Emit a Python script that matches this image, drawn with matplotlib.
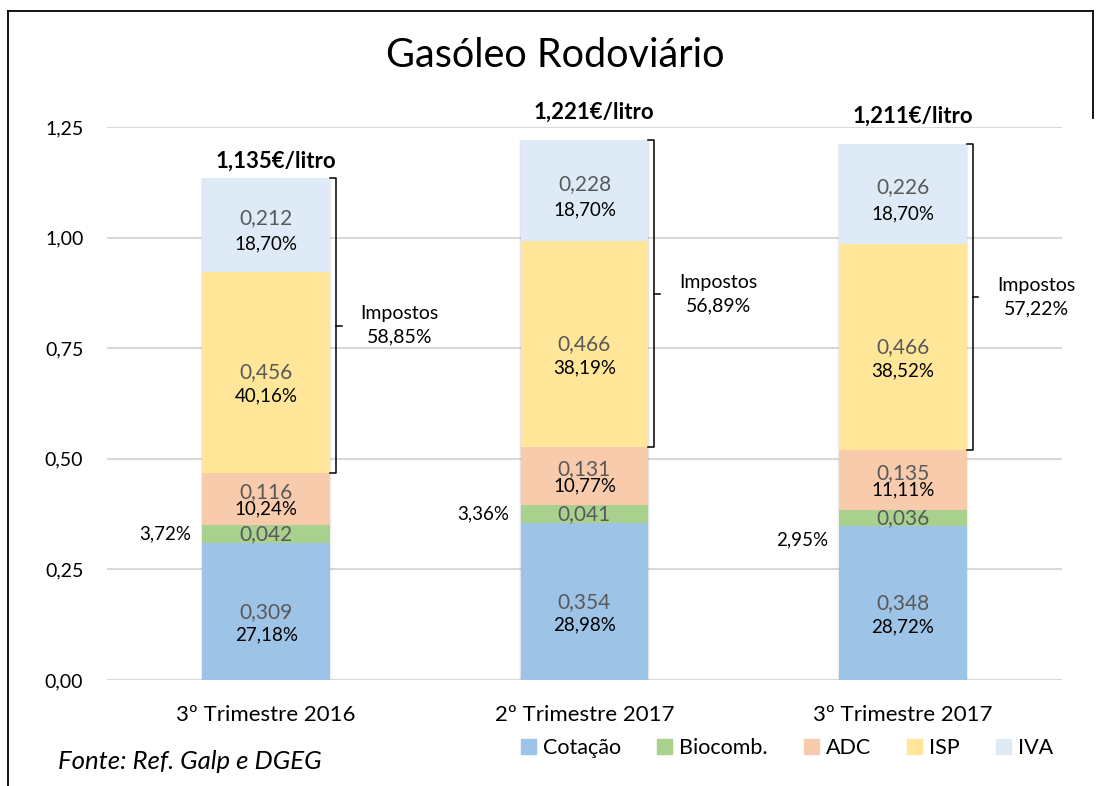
import matplotlib.pyplot as plt
from matplotlib.lines import Line2D
from matplotlib.patches import Patch
import numpy as np

plt.rcParams['font.family'] = ['Lato', 'DejaVu Sans']

# data
categories = ['3º Trimestre 2016', '2º Trimestre 2017', '3º Trimestre 2017']
cotacao = [0.309, 0.354, 0.348]
biocomb = [0.042, 0.041, 0.036]
adc = [0.116, 0.131, 0.135]
isp = [0.456, 0.466, 0.466]
iva = [0.212, 0.228, 0.226]
totals_txt = ['1,135€/litro', '1,221€/litro', '1,211€/litro']
cot_pct = ['27,18%', '28,98%', '28,72%']
bio_pct = ['3,72%', '3,36%', '2,95%']
adc_pct = ['10,24%', '10,77%', '11,11%']
isp_pct = ['40,16%', '38,19%', '38,52%']
iva_pct = ['18,70%', '18,70%', '18,70%']
impostos_pct = ['58,85%', '56,89%', '57,22%']

# name, values, colour, pct labels, value label dy (pt), pct label dy (pt)
series = [('Cotação', cotacao, '#9DC3E6', cot_pct, 0, -17),
          ('Biocomb.', biocomb, '#A9D18E', None, 0, 0),
          ('ADC', adc, '#F8CBAD', adc_pct, 5, -7),
          ('ISP', isp, '#FFE699', isp_pct, 0, -17),
          ('IVA', iva, '#DEEBF7', iva_pct, 5, -14)]

fig = plt.figure(figsize=(10.96, 7.86), dpi=100)
ax = fig.add_axes([0.0976, 0.1349, 0.8714, 0.7035])

x = np.arange(len(categories))
bw = 0.40
bottom = np.zeros(len(categories))
totals = np.sum([s[1] for s in series], axis=0)

# soft shadow behind bars
for k, a in enumerate([0.05, 0.07, 0.09]):
    grow = 0.012 - k * 0.004
    ax.bar(x, totals + grow * 0.5, bw + grow, bottom=-0.006,
           color='#7f7f7f', alpha=a, linewidth=0, zorder=1)

for name, vals, col, pct, vdy, pdy in series:
    vals = np.array(vals)
    ax.bar(x, vals, bw, bottom=bottom, color=col, label=name, zorder=2, linewidth=0)
    centers = bottom + vals / 2
    for i in range(len(x)):
        ax.annotate(f'{vals[i]:.3f}'.replace('.', ','), (x[i], centers[i]),
                    xytext=(0, vdy), textcoords='offset points',
                    ha='center', va='center', fontsize=15, color='#595959', zorder=3)
        if pct is not None:
            ax.annotate(pct[i], (x[i], centers[i]), xytext=(0, pdy),
                        textcoords='offset points', ha='center', va='center',
                        fontsize=13.5, color='black', zorder=3)
    bottom = bottom + vals

# Biocomb percentages left of the bar
bio_center = np.array(cotacao) + np.array(biocomb) / 2
bio_dy = [0, 0, -16]
for i in range(len(x)):
    ax.annotate(bio_pct[i], (x[i] - bw / 2, bio_center[i]), xytext=(-8, bio_dy[i]),
                textcoords='offset points', ha='right', va='center', fontsize=13.5)

# totals on top
tot_dy = [12, 20, 20]
for i in range(len(x)):
    ax.annotate(totals_txt[i], (x[i], totals[i]), xytext=(7, tot_dy[i]),
                textcoords='offset points', ha='center', va='center',
                fontsize=16, fontweight='bold', annotation_clip=False)

# tax brackets
tax_low = np.array(cotacao) + np.array(biocomb) + np.array(adc)
for i in range(len(x)):
    xb = x[i] + bw / 2 + 0.019
    tk = 0.018
    ax.plot([xb - tk, xb, xb, xb - tk], [tax_low[i], tax_low[i], totals[i], totals[i]],
            color='black', lw=1.1, clip_on=False, zorder=4)
    ym = (tax_low[i] + totals[i]) / 2
    ax.plot([xb, xb + tk], [ym, ym], color='black', lw=1.1, clip_on=False, zorder=4)
    ax.annotate('Impostos\n' + impostos_pct[i], (xb, ym), xytext=(46, 0),
                textcoords='offset points', ha='center', va='center',
                fontsize=14, linespacing=1.45, annotation_clip=False)

ax.set_xlim(-0.5, 2.5)
ax.set_ylim(0, 1.25)
ax.set_yticks([0, 0.25, 0.5, 0.75, 1.0, 1.25])
ax.set_yticklabels(['0,00', '0,25', '0,50', '0,75', '1,00', '1,25'], fontsize=14)
ax.set_xticks(x)
ax.set_xticklabels(categories, fontsize=16)
ax.tick_params(axis='y', length=0, pad=17)
ax.tick_params(axis='x', length=0, pad=18)
ax.grid(axis='y', color='#D9D9D9', lw=1.5, zorder=0)
ax.set_axisbelow(True)
for sp in ax.spines.values():
    sp.set_visible(False)

fig.text(0.507, 0.930, 'Gasóleo Rodoviário', ha='center', va='center', fontsize=28.5)
fig.text(0.053, 0.031, 'Fonte: Ref. Galp e DGEG', ha='left', va='center',
         fontsize=18.5, style='italic')

handles = [Patch(color=s[2], label=s[0]) for s in series]
fig.legend(handles=handles, loc='center', bbox_to_anchor=(0.718, 0.048), ncol=5,
           frameon=False, fontsize=15.5, handlelength=0.7, handleheight=0.7,
           handletextpad=0.3, columnspacing=1.7)

# chart frame
fig.add_artist(Line2D([0.0073, 0.0073], [0, 0.986], color='black', lw=1.3))
fig.add_artist(Line2D([0.0073, 0.997], [0.986, 0.986], color='black', lw=1.3))
fig.add_artist(Line2D([0.997, 0.997], [0.986, 0.85], color='black', lw=1.3))

fig.savefig('out.png', dpi=100)
